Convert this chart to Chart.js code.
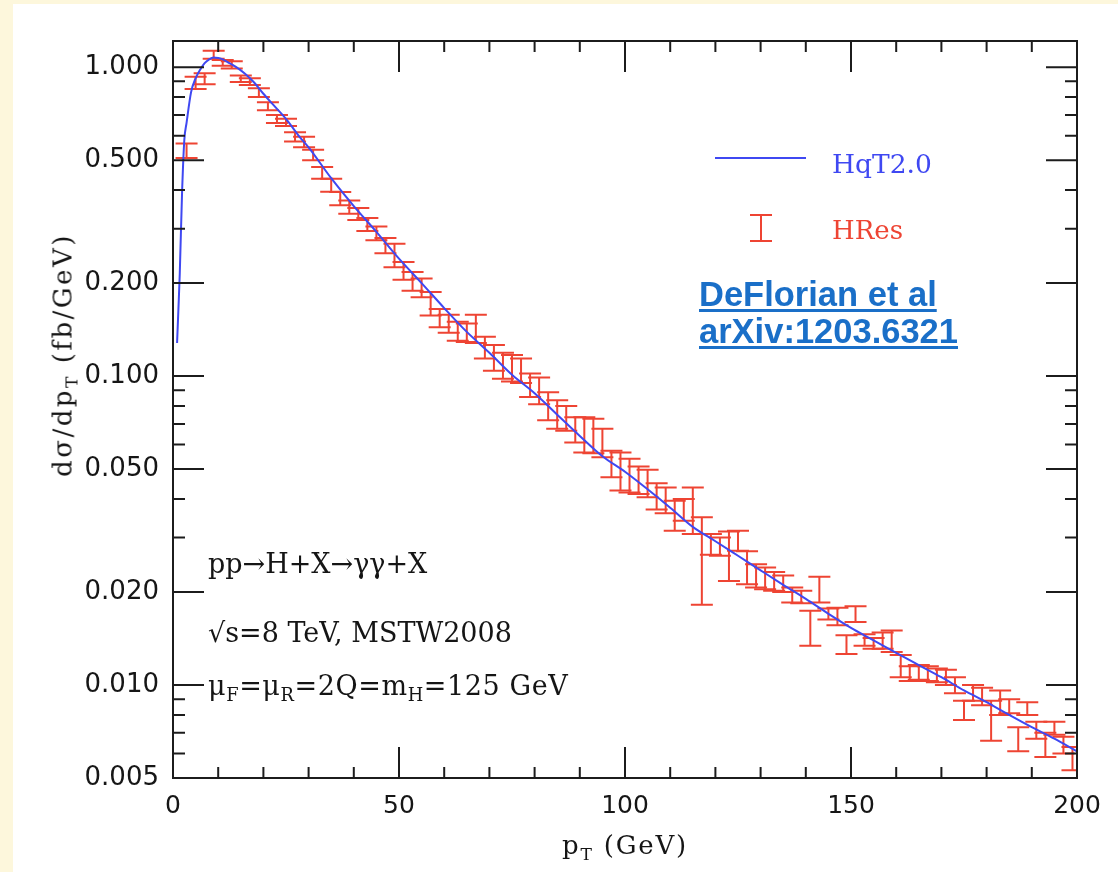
<!DOCTYPE html>
<html>
<head>
<meta charset="utf-8">
<script src="https://cdn.jsdelivr.net/npm/chart.js@4.4.1/dist/chart.umd.min.js"></script>
<style>
  html, body { margin: 0; padding: 0; }
  body { width: 1118px; height: 872px; background: #fdf7dc; position: relative; overflow: hidden; }
  #panel { position: absolute; left: 13px; top: 4px; right: 0; bottom: 0; background: #fff; }
  #chart { position: absolute; left: 0; top: 0; }
  .txt { position: absolute; white-space: nowrap; font-family: "DejaVu Serif", serif; font-size: 27px;
         line-height: 27px; color: #151515; }
  .txt sub { font-size: 0.66em; vertical-align: -0.35em; line-height: 0; }
  #ytitle { left: 63px; top: 355px; transform: translate(-50%, -50%) rotate(-90deg); font-size: 26px; letter-spacing: 2.5px; }
  #xtitle { left: 625px; top: 845px; transform: translate(-50%, -50%); font-size: 26px; letter-spacing: 1.8px; }
  #link { position: absolute; left: 699px; top: 276px; font-family: "Liberation Sans", Arial, sans-serif; font-weight: bold;
          font-size: 34.5px; line-height: 37px; color: #1a6fc8; text-decoration: underline; text-decoration-thickness: 3px; text-underline-offset: 3px; }
  .swatch { position: absolute; }
</style>
</head>
<body>
<div id="panel"></div>
<canvas id="chart" width="1118" height="872" style="width:1118px;height:872px"></canvas>

<div class="txt" id="ytitle">dσ/dp<sub>T</sub> (fb/GeV)</div>
<div class="txt" id="xtitle">p<sub>T</sub> (GeV)</div>

<div class="swatch" style="left:715px; top:157px; width:91px; height:2px; background:#3f48f2"></div>
<div class="txt" style="left:832px; top:150px; font-size:26.5px; color:#3f48f2">HqT2.0</div>
<div class="swatch" style="left:760px; top:215px; width:2px; height:27px; background:#ee4433"></div>
<div class="swatch" style="left:750px; top:214px; width:22px; height:2px; background:#ee4433"></div>
<div class="swatch" style="left:750px; top:240px; width:22px; height:2px; background:#ee4433"></div>
<div class="txt" style="left:832px; top:217px; font-size:26px; color:#ee4433">HRes</div>

<div id="link">DeFlorian et al<br>arXiv:1203.6321</div>

<div class="txt" style="left:208px; top:550px">pp→H+X→γγ+X</div>
<div class="txt" style="left:208px; top:619px">√s=8 TeV, MSTW2008</div>
<div class="txt" style="left:208px; top:672px; letter-spacing:0.6px">μ<sub>F</sub>=μ<sub>R</sub>=2Q=m<sub>H</sub>=125 GeV</div>

<script>
// HqT2.0 curve
const curvePt = [0.9, 1.2, 1.5, 2, 2.5, 3, 4, 5, 6, 7, 8, 9, 10, 11, 12, 14, 16, 18, 20, 22, 25, 28, 30,
  35, 40, 45, 50, 55, 60, 65, 70, 75, 80, 85, 90, 95, 100, 105, 110, 115, 120, 125, 130, 135, 140, 145,
  150, 155, 160, 165, 170, 175, 180, 185, 190, 195, 200];
const curveVal = [0.128, 0.165, 0.215, 0.39, 0.58, 0.66, 0.83, 0.92, 0.98, 1.03, 1.06, 1.075, 1.07, 1.06, 1.04,
  1.0, 0.95, 0.89, 0.82, 0.76, 0.68, 0.595, 0.55, 0.437, 0.355, 0.293, 0.240, 0.200, 0.166, 0.139, 0.119,
  0.101, 0.088, 0.075, 0.064, 0.055, 0.049, 0.043, 0.0375, 0.0325, 0.0292, 0.0262, 0.0235, 0.0211, 0.0190,
  0.0170, 0.0153, 0.01395, 0.0127, 0.0116, 0.0106, 0.0096, 0.0088, 0.0080, 0.0073, 0.0067, 0.0061];

// HRes error bars: bin centres, lower and upper ends
const errPt = [3, 5, 7, 9, 11, 13, 15, 17, 19, 21, 23, 25, 27, 29, 31, 33, 35, 37, 39, 41, 43, 45, 47, 49,
  51, 53, 55, 57, 59, 61, 63, 65, 67, 69, 71, 73, 75, 77, 79, 81, 83, 85, 87, 89, 91, 93, 95, 97, 99,
  101, 103, 105, 107, 109, 111, 113, 115, 117, 119, 121, 123, 125, 127, 129, 131, 133, 135, 137, 139,
  141, 143, 145, 147, 149, 151, 153, 155, 157, 159, 161, 163, 165, 167, 169, 171, 173, 175, 177, 179,
  181, 183, 185, 187, 189, 191, 193, 195, 197, 199];
const errLo = [0.508, 0.85, 0.88, 1.065, 1.01, 0.99, 0.895, 0.875, 0.80, 0.725, 0.66, 0.645, 0.575, 0.55,
  0.50, 0.435, 0.395, 0.357, 0.335, 0.32, 0.295, 0.275, 0.25, 0.225,
  0.205, 0.189, 0.18, 0.157, 0.144, 0.138, 0.130, 0.129, 0.128, 0.114, 0.104, 0.098, 0.096, 0.095, 0.0855,
  0.081, 0.072, 0.0675, 0.0665, 0.061, 0.0566, 0.0563, 0.0546, 0.047, 0.0426,
  0.042, 0.0415, 0.0405, 0.037, 0.036, 0.0316, 0.034, 0.0308, 0.0182, 0.0264, 0.0262, 0.0217, 0.0272,
  0.0212, 0.0207, 0.0204, 0.0202, 0.0200, 0.0185, 0.0184,
  0.0134, 0.0185, 0.0163, 0.0156, 0.0126, 0.0160, 0.0134, 0.0131, 0.0131, 0.0128, 0.0106, 0.0103, 0.0104,
  0.0103, 0.0102, 0.0100, 0.0094, 0.0077, 0.0089, 0.0086,
  0.0066, 0.0080, 0.0081, 0.0061, 0.0080, 0.0067, 0.00585, 0.0069, 0.0060, 0.0053];
const errHi = [0.566, 0.93, 0.955, 1.13, 1.055, 1.045, 0.94, 0.92, 0.855, 0.77, 0.70, 0.68, 0.615, 0.595,
  0.54, 0.475, 0.435, 0.394, 0.37, 0.35, 0.325, 0.305, 0.28, 0.268,
  0.234, 0.217, 0.207, 0.187, 0.165, 0.158, 0.150, 0.148, 0.158, 0.134, 0.126, 0.119, 0.117, 0.114, 0.102,
  0.099, 0.0887, 0.0835, 0.080, 0.0735, 0.0735, 0.0727, 0.0675, 0.0573, 0.0566,
  0.054, 0.051, 0.0497, 0.045, 0.0436, 0.0395, 0.040, 0.0436, 0.0349, 0.0308, 0.0300, 0.0314, 0.0316,
  0.0271, 0.0246, 0.024, 0.0232, 0.0226, 0.0207, 0.0202,
  0.0174, 0.0224, 0.0177, 0.0178, 0.0145, 0.0180, 0.0146, 0.0142, 0.0148, 0.0150, 0.0125, 0.0115, 0.0116,
  0.0115, 0.0113, 0.0112, 0.0106, 0.0089, 0.0100, 0.0098,
  0.0089, 0.0096, 0.0090, 0.0073, 0.0088, 0.0076, 0.0070, 0.0076, 0.0068, 0.0063];

// axis ticks
const yMajor = [0.005, 0.01, 0.02, 0.05, 0.1, 0.2, 0.5, 1.0];
const yTicks = [0.005, 0.006, 0.007, 0.008, 0.009, 0.01, 0.02, 0.03, 0.04, 0.05, 0.06, 0.07, 0.08, 0.09,
  0.1, 0.2, 0.3, 0.4, 0.5, 0.6, 0.7, 0.8, 0.9, 1.0];
const xMajor = [50, 100, 150];
const xTicks = [10, 20, 30, 40, 50, 60, 70, 80, 90, 100, 110, 120, 130, 140, 150, 160, 170, 180, 190];

const blue = '#3f48f2';
const red = '#ee4433';

// draws the HRes bars under the curve
const errorBars = {
  id: 'errorBars',
  beforeDatasetsDraw(chart) {
    const { ctx, chartArea: a, scales: { x, y } } = chart;
    const ds = chart.data.datasets[1];
    ctx.save();
    ctx.beginPath();
    ctx.rect(a.left, a.top, a.width, a.height);
    ctx.clip();
    ctx.strokeStyle = ds.borderColor;
    ctx.lineWidth = 2;
    ds.data.forEach((p, i) => {
      const px = x.getPixelForValue(p.x);
      const y1 = y.getPixelForValue(ds.errLo[i]);
      const y2 = y.getPixelForValue(ds.errHi[i]);
      ctx.beginPath();
      ctx.moveTo(px, y1); ctx.lineTo(px, y2);
      ctx.moveTo(px - 11, y1); ctx.lineTo(px + 11, y1);
      ctx.moveTo(px - 11, y2); ctx.lineTo(px + 11, y2);
      ctx.stroke();
    });
    ctx.restore();
  }
};

// box round the plot with inward ticks on all four sides
const frame = {
  id: 'frame',
  afterDraw(chart) {
    const { ctx, chartArea: a, scales: { x, y } } = chart;
    ctx.save();
    ctx.strokeStyle = '#1c1c1c';
    ctx.lineWidth = 2;
    ctx.strokeRect(a.left, a.top, a.width, a.height);
    ctx.beginPath();
    yTicks.forEach(v => {
      const py = y.getPixelForValue(v);
      const len = yMajor.includes(v) ? 31 : 12;
      ctx.moveTo(a.left, py); ctx.lineTo(a.left + len, py);
      ctx.moveTo(a.right, py); ctx.lineTo(a.right - len, py);
    });
    xTicks.forEach(v => {
      const px = x.getPixelForValue(v);
      const len = xMajor.includes(v) ? 31 : 11;
      ctx.moveTo(px, a.bottom); ctx.lineTo(px, a.bottom - len);
      ctx.moveTo(px, a.top); ctx.lineTo(px, a.top + len);
    });
    ctx.stroke();
    ctx.restore();
  }
};

document.addEventListener('DOMContentLoaded', function () {
  Chart.defaults.font.family = '"DejaVu Sans", sans-serif';
  Chart.defaults.color = '#161616';

  const ctx = document.getElementById('chart');
  new Chart(ctx, {
    type: 'scatter',
    data: {
      datasets: [{
        label: 'HqT2.0',
        data: curvePt.map((x, i) => ({ x: x, y: curveVal[i] })),
        showLine: true,
        borderColor: blue,
        borderWidth: 2,
        pointRadius: 0,
        cubicInterpolationMode: 'monotone'
      }, {
        label: 'HRes',
        data: errPt.map((x, i) => ({ x: x, y: Math.sqrt(errLo[i] * errHi[i]) })),
        errLo: errLo,
        errHi: errHi,
        borderColor: red,
        pointRadius: 0,
        pointHoverRadius: 0
      }]
    },
    options: {
      responsive: false,
      animation: false,
      events: [],
      layout: { padding: { top: 41, right: 41, left: 0, bottom: 0 } },
      plugins: { legend: { display: false }, tooltip: { enabled: false } },
      scales: {
        x: {
          type: 'linear',
          min: 0,
          max: 200,
          grid: { display: false, drawTicks: false },
          border: { display: false },
          ticks: { stepSize: 50, font: { size: 25 }, padding: 13, maxRotation: 0 },
          afterFit: s => { s.height = 94; }
        },
        y: {
          type: 'logarithmic',
          min: 0.005,
          max: 1.215,
          grid: { display: false, drawTicks: false },
          border: { display: false },
          afterBuildTicks: s => { s.ticks = yTicks.map(v => ({ value: v })); },
          ticks: {
            autoSkip: false,
            font: { size: 26 },
            padding: 14,
            callback: v => yMajor.includes(v) ? v.toFixed(3) : ''
          },
          afterFit: s => { s.width = 173; }
        }
      }
    },
    plugins: [errorBars, frame]
  });
});
</script>
</body>
</html>
